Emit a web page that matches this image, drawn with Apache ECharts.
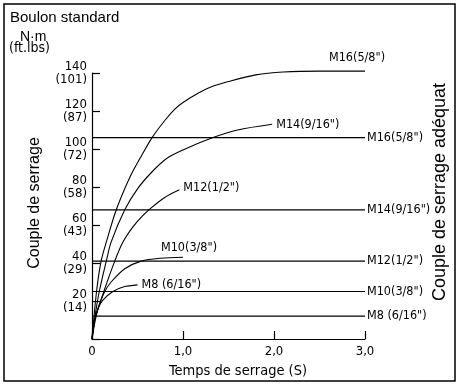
<!DOCTYPE html>
<html>
<head>
<meta charset="utf-8">
<script src="https://cdn.jsdelivr.net/npm/echarts@6/dist/echarts.min.js"></script>
<style>
html,body{margin:0;padding:0;background:#fff;}
#c{width:458px;height:384px;}
</style>
</head>
<body>
<div id="c"></div>
<script>
// ---- data ----
const yTickValues = [20, 40, 60, 80, 100, 120, 140];
const yTickFtLbs = ['(14)', '(29)', '(43)', '(58)', '(72)', '(87)', '(101)'];
const xTickLabels = ['0', '1,0', '2,0', '3,0'];
const boltNames = ['M8 (6/16")', 'M10(3/8")', 'M12(1/2")', 'M14(9/16")', 'M16(5/8")'];
const adequateTorque = [12, 25, 41, 68, 106];
const lineEndTime = 3.0;
const m8Curve = [[0,0],[0.02,8],[0.066,16],[0.12,20.5],[0.23,25],[0.35,27.5],[0.5,28.5]];
const m10Curve = [[0,0],[0.03,10],[0.08,18],[0.14,25],[0.21,30],[0.36,37],[0.54,41],[0.75,42.5],[1.0,43]];
const m12Curve = [[0,0],[0.05,13],[0.13,25],[0.25,41],[0.34,51],[0.45,59],[0.55,64.5],[0.65,69],[0.8,74.5],[0.96,78.5]];
const m14Curve = [[0,0],[0.04,14],[0.08,25],[0.157,41],[0.21,51],[0.36,68],[0.5,79],[0.65,87.5],[0.82,95],[1.0,99.5],[1.33,106],[1.6,110],[1.98,113]];
const m16Curve = [[0,0],[0.05,25],[0.1,41],[0.157,51],[0.267,68],[0.425,86],[0.55,97],[0.66,106],[0.8,115],[0.91,121],[1.0,124.5],[1.17,129.5],[1.3,132.5],[1.5,135.5],[1.8,139],[2.1,140.5],[2.5,141],[3.0,141]];
const curves = [m8Curve, m10Curve, m12Curve, m14Curve, m16Curve];

// ---- styling ----
const FONT = '"Liberation Sans", Arial, sans-serif';
const NARROW = '"Liberation Sans Narrow", "DejaVu Sans Condensed", Arial, sans-serif';
const curveLabelOffsets = [[2, 0], [-24, -10], [2, -2], [2, 0], [-38, -13]];

const chart = echarts.init(document.getElementById('c'), null, {renderer: 'canvas'});

const series = [];
boltNames.forEach((name, i) => {
  series.push({
    type: 'line',
    data: [[0, adequateTorque[i]], [lineEndTime, adequateTorque[i]]],
    symbol: 'none',
    lineStyle: {color: '#000', width: 1.2},
    silent: true,
    endLabel: {show: true, formatter: name, color: '#000', fontFamily: NARROW, fontSize: 12.5, distance: 2},
    z: 2
  });
  series.push({
    type: 'line',
    data: curves[i],
    symbol: 'none',
    smooth: 0.3,
    clip: false,
    lineStyle: {color: '#000', width: 1.1},
    silent: true,
    endLabel: {show: true, formatter: name, color: '#000', fontFamily: NARROW, fontSize: 12.5,
      distance: 2, offset: curveLabelOffsets[i]},
    z: 3
  });
});

const option = {
  animation: false,
  backgroundColor: '#fff',
  grid: {left: 92, right: 93, top: 73, bottom: 45, containLabel: false},
  xAxis: {
    type: 'value', min: 0, max: 3, interval: 1,
    axisLine: {show: true, lineStyle: {color: '#000', width: 1.2}},
    axisTick: {show: true, inside: true, length: 8, lineStyle: {color: '#000', width: 1.2}},
    splitLine: {show: false},
    axisLabel: {color: '#000', fontFamily: NARROW, fontSize: 13, margin: 6,
      formatter: v => xTickLabels[Math.round(v)]}
  },
  yAxis: {
    type: 'value', min: 0, max: 140, interval: 20,
    axisLine: {show: true, lineStyle: {color: '#000', width: 1.2}},
    axisTick: {show: true, inside: true, length: 8, lineStyle: {color: '#000', width: 1.2}},
    splitLine: {show: false},
    axisLabel: {color: '#000', fontFamily: NARROW, fontSize: 13, margin: 5, lineHeight: 13,
      formatter: v => {
        const k = yTickValues.indexOf(v);
        return k < 0 ? '' : v + '\n' + yTickFtLbs[k];
      }}
  },
  graphic: [
    {type: 'rect', shape: {x: 4, y: 4, width: 451, height: 377}, style: {fill: 'none', stroke: '#000', lineWidth: 1.5}, silent: true},
    {type: 'text', left: 10, top: 10, style: {text: 'Boulon standard', fill: '#000', font: '15px ' + FONT}},
    {type: 'text', left: 20, top: 30, style: {text: 'N·m', fill: '#000', font: '14px ' + FONT}},
    {type: 'text', left: 9, top: 41, style: {text: '(ft.lbs)', fill: '#000', font: '14px ' + NARROW}},
    {type: 'text', x: 35, y: 203, rotation: Math.PI / 2,
      style: {text: 'Couple de serrage', fill: '#000', font: '16px ' + FONT, align: 'center', verticalAlign: 'middle'}},
    {type: 'text', x: 440, y: 192, rotation: Math.PI / 2,
      style: {text: 'Couple de serrage adéquat', fill: '#000', font: '18px ' + FONT, align: 'center', verticalAlign: 'middle'}},
    {type: 'text', x: 238, y: 371,
      style: {text: 'Temps de serrage (S)', fill: '#000', font: '14.5px ' + NARROW, align: 'center', verticalAlign: 'middle'}}
  ],
  series: series
};
chart.setOption(option);
</script>
</body>
</html>
